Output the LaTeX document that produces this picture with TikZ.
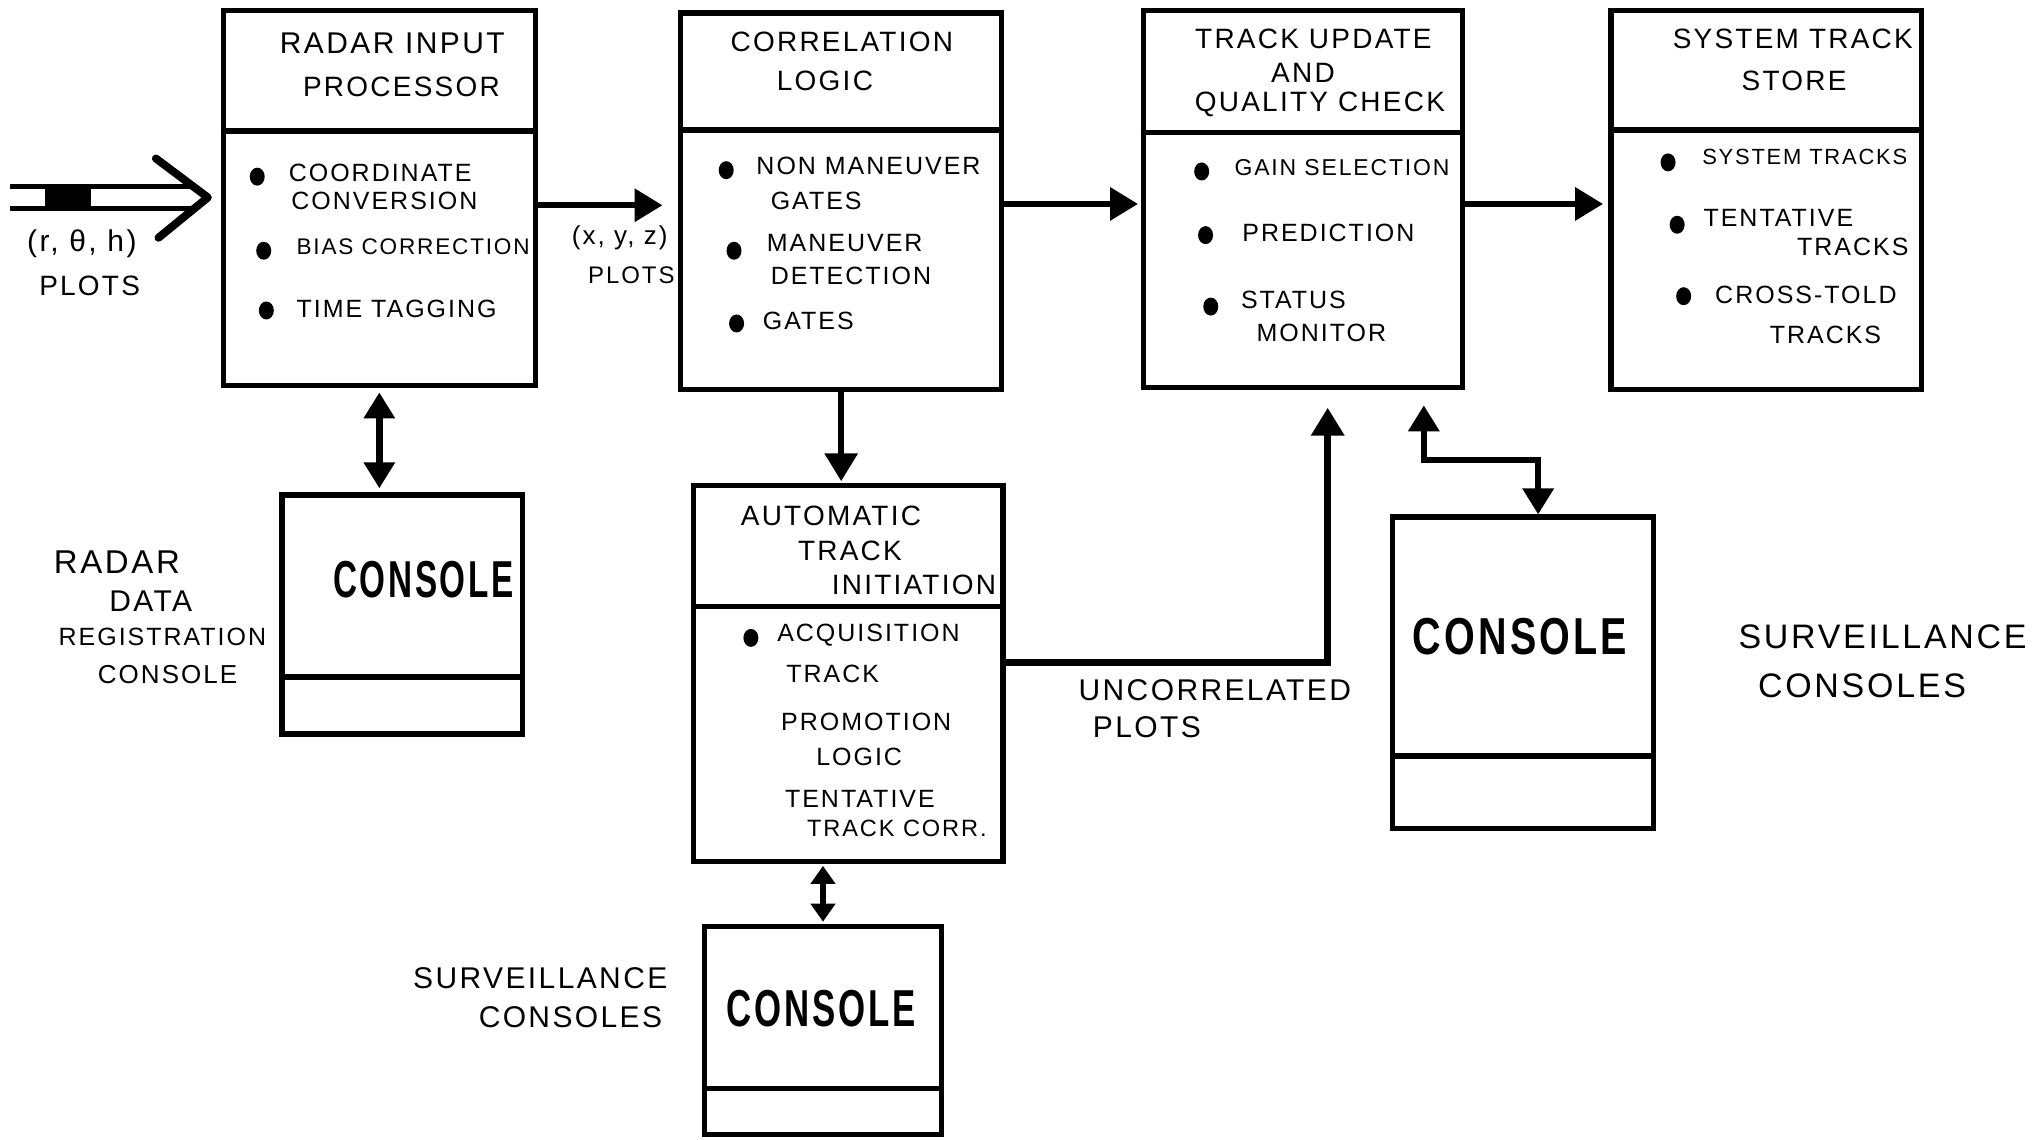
\documentclass[tikz,border=0pt]{standalone}
\usepackage{fontspec}
\setmainfont{Liberation Sans}[LetterSpace=8]
\usetikzlibrary{arrows.meta,fit,calc,shapes.geometric}

\tikzset{
  blk/.style={draw, line width=2.6pt, inner sep=0pt},
  rule/.style={line width=2.8pt},
  ttl/.style={font=\fontsize{14}{16}\selectfont, inner sep=0pt},
  itm/.style={font=\fontsize{12.5}{14}\selectfont, inner sep=0pt, anchor=west},
  dot/.style={ellipse, fill, inner sep=0pt, minimum width=7.5pt, minimum height=9pt},
  conlbl/.style={font=\fontsize{26}{28}\selectfont\bfseries, inner sep=0pt},
  lbl/.style={inner sep=0pt},
  arr/.style={line width=3.2pt, -{Triangle[length=14pt,width=16pt]}},
  arrtwo/.style={line width=3.2pt, {Triangle[length=13pt,width=15pt]}-{Triangle[length=13pt,width=15pt]}},
  arrshort/.style={line width=3pt, {Triangle[length=9pt,width=12pt]}-{Triangle[length=9pt,width=12pt]}},
  inline/.style={line width=2.6pt},
}

\begin{document}
\begin{tikzpicture}[x=0.65pt, y=-0.65pt]
\useasboundingbox (0,0) rectangle (1568,877);

% ---------- processing blocks ----------
\node[blk, fit={(172,8) (412,297)}] (rip) {};
\draw[rule] (rip.west |- 0,101) -- (rip.east |- 0,101);
\node[ttl, font=\fontsize{15}{17}\selectfont] (rip-t1) at (302,33) {RADAR INPUT};
\node[ttl] (rip-t2) at (309,67) {PROCESSOR};
\node[dot] (rip-d1) at (198,136) {};
\node[itm] (rip-i1) at (222,133) {COORDINATE};
\node[itm] (rip-i2) at (224,155) {CONVERSION};
\node[dot] (rip-d2) at (203,193) {};
\node[itm, font=\fontsize{11.3}{13}\selectfont] (rip-i3) at (228,190) {BIAS CORRECTION};
\node[dot] (rip-d3) at (205,239) {};
\node[itm] (rip-i4) at (228,238) {TIME TAGGING};

\node[blk, fit={(524,10) (771,300)}] (corr) {};
\draw[rule] (corr.west |- 0,100) -- (corr.east |- 0,100);
\node[ttl] (corr-t1) at (648,32) {CORRELATION};
\node[ttl] (corr-t2) at (635,62) {LOGIC};
\node[dot] (corr-d1) at (559,131) {};
\node[itm] (corr-i1) at (582,128) {NON MANEUVER};
\node[itm] (corr-i2) at (593,155) {GATES};
\node[dot] (corr-d2) at (565,193) {};
\node[itm] (corr-i3) at (590,187) {MANEUVER};
\node[itm] (corr-i4) at (593,212) {DETECTION};
\node[dot] (corr-d3) at (567,249) {};
\node[itm] (corr-i5) at (587,247) {GATES};

\node[blk, fit={(880,8) (1126,298)}] (tuq) {};
\draw[rule] (tuq.west |- 0,102) -- (tuq.east |- 0,102);
\node[ttl] (tuq-t1) at (1011,30) {TRACK UPDATE};
\node[ttl] (tuq-t2) at (1003,56) {AND};
\node[ttl] (tuq-t3) at (1016,80) {QUALITY CHECK};
\node[dot] (tuq-d1) at (925,132) {};
\node[itm, font=\fontsize{11.5}{13}\selectfont] (tuq-i1) at (950,129) {GAIN SELECTION};
\node[dot] (tuq-d2) at (928,181) {};
\node[itm] (tuq-i2) at (956,179) {PREDICTION};
\node[dot] (tuq-d3) at (932,236) {};
\node[itm] (tuq-i3) at (955,231) {STATUS};
\node[itm] (tuq-i4) at (967,256) {MONITOR};

\node[blk, fit={(1240,8) (1479,300)}] (sts) {};
\draw[rule] (sts.west |- 0,100) -- (sts.east |- 0,100);
\node[ttl] (sts-t1) at (1380,30) {SYSTEM TRACK};
\node[ttl] (sts-t2) at (1381,62) {STORE};
\node[dot] (sts-d1) at (1284,125) {};
\node[itm, font=\fontsize{11}{13}\selectfont] (sts-i1) at (1310,121) {SYSTEM TRACKS};
\node[dot] (sts-d2) at (1291,173) {};
\node[itm] (sts-i2) at (1311,168) {TENTATIVE};
\node[itm] (sts-i3) at (1383,190) {TRACKS};
\node[dot] (sts-d3) at (1296,228) {};
\node[itm] (sts-i4) at (1320,227) {CROSS-TOLD};
\node[itm] (sts-i5) at (1362,258) {TRACKS};

\node[blk, fit={(534,374) (772,663)}] (ati) {};
\draw[rule] (ati.west |- 0,467) -- (ati.east |- 0,467);
\node[ttl, anchor=west] (ati-t1) at (570,397) {AUTOMATIC};
\node[ttl, anchor=west] (ati-t2) at (614,424) {TRACK};
\node[ttl, anchor=east] (ati-t3) at (767,450) {INITIATION};
\node[dot] (ati-d1) at (578,491) {};
\node[itm] (ati-i1) at (598,489) {ACQUISITION};
\node[itm] (ati-i2) at (605,519) {TRACK};
\node[itm] (ati-i3) at (601,556) {PROMOTION};
\node[itm] (ati-i4) at (628,583) {LOGIC};
\node[itm] (ati-i5) at (604,615) {TENTATIVE};
\node[itm, font=\fontsize{11.8}{13}\selectfont] (ati-i6) at (621,638) {TRACK CORR.};

% ---------- consoles ----------
\node[blk, fit={(217,381) (402,565)}] (con1) {};
\draw[rule] (con1.west |- 0,521) -- (con1.east |- 0,521);
\node[conlbl] (con1-t) at (326,446) {\scalebox{0.64}[1]{CONSOLE}};

\node[blk, fit={(1072,398) (1273,638)}] (con2) {};
\draw[rule] (con2.west |- 0,582) -- (con2.east |- 0,582);
\node[conlbl] (con2-t) at (1170,490) {\scalebox{0.76}[1]{CONSOLE}};

\node[blk, fit={(542,713) (725,873)}] (con3) {};
\draw[rule] (con3.west |- 0,838) -- (con3.east |- 0,838);
\node[conlbl] (con3-t) at (632,776) {\scalebox{0.67}[1]{CONSOLE}};

% ---------- free labels ----------
\node[lbl, font=\fontsize{15}{17}\selectfont] (in-l1) at (63,188) {(r, θ, h)};
\node[lbl, font=\fontsize{14}{16}\selectfont] (in-l2) at (69,220) {PLOTS};
\node[lbl, font=\fontsize{13}{15}\selectfont] (xy-l1) at (477,183) {(x, y, z)};
\node[lbl, font=\fontsize{12}{14}\selectfont] (xy-l2) at (486,212) {PLOTS};

\node[lbl, font=\fontsize{16.5}{18}\selectfont] (rd-l1) at (90,433) {RADAR};
\node[lbl, font=\fontsize{15}{17}\selectfont] (rd-l2) at (116,463) {DATA};
\node[lbl, font=\fontsize{12.5}{14}\selectfont] (rd-l3) at (125,490) {REGISTRATION};
\node[lbl, font=\fontsize{13}{15}\selectfont] (rd-l4) at (129,519) {CONSOLE};

\node[lbl, anchor=west, font=\fontsize{15}{17}\selectfont] (uc-l1) at (830,531) {UNCORRELATED};
\node[lbl, anchor=west, font=\fontsize{15}{17}\selectfont] (uc-l2) at (841,560) {PLOTS};

\node[lbl, anchor=west, font=\fontsize{17}{19}\selectfont] (sv-l1) at (1338,490) {SURVEILLANCE};
\node[lbl, anchor=west, font=\fontsize{17}{19}\selectfont] (sv-l2) at (1353,528) {CONSOLES};

\node[lbl, anchor=east, font=\fontsize{15}{17}\selectfont] (sb-l1) at (514,753) {SURVEILLANCE};
\node[lbl, anchor=east, font=\fontsize{15}{17}\selectfont] (sb-l2) at (510,783) {CONSOLES};

% ---------- incoming plot bus ----------
\coordinate (src) at (8,152);
\coordinate (inTip) at (160,152);
\draw[inline] ($(src)+(0,-8.5)$) -- ($(inTip)+(-12,-8.5)$);
\draw[inline] ($(src)+(0,8.5)$) -- ($(inTip)+(-12,8.5)$);
\fill ($(src)+(27,-8.5)$) rectangle ($(src)+(62,8.5)$);
\draw[line width=4pt, line cap=round, line join=round]
  ($(inTip)+(-40,-30)$) -- (inTip) -- ($(inTip)+(-38,31)$);

% ---------- connectors ----------
\draw[arr, shorten >=7.8pt] ($(rip.east)+(0,5.5)$) -- ($(corr.west)+(0,3)$);
\draw[arr, shorten >=1.3pt] ($(corr.east)+(0,2)$) -- ($(tuq.west)+(0,4)$);
\draw[arr, shorten >=2.6pt] ($(tuq.east)+(0,4)$) -- ($(sts.west)+(0,3)$);

\draw[arrtwo, shorten <=2pt, shorten >=2pt] (rip.south) -- (rip.south |- con1.north);
\draw[arr, shorten >=1pt] (corr.south) -- (corr.south |- ati.north);
\draw[arrshort, shorten <=1pt, shorten >=1pt] (con3.north |- ati.south) -- (con3.north);

\draw[arr, line width=3.6pt, shorten >=9pt] ($(ati.east)+(0,-8.5)$) -| ($(tuq.south)+(19,0)$);
\draw[arrtwo, shorten <=7.8pt] ($(tuq.south)+(93,0)$) -- ++(0,54) -| ($(con2.north)+(11.5,0)$);
\end{tikzpicture}
\end{document}
